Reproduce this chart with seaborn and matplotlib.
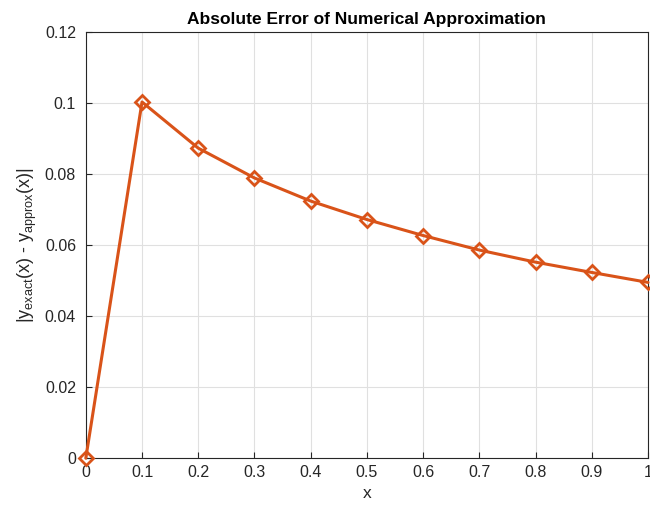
import matplotlib
matplotlib.use("Agg")
import matplotlib.pyplot as plt
import seaborn as sns
import pandas as pd

x_vals = [0.0, 0.1, 0.2, 0.3, 0.4, 0.5, 0.6, 0.7, 0.8, 0.9, 1.0]
abs_error = [0.0, 0.1003, 0.0873, 0.0789, 0.0724, 0.0672, 0.0627, 0.0586, 0.0552, 0.0523, 0.0495]
x_ticks = [0, 0.1, 0.2, 0.3, 0.4, 0.5, 0.6, 0.7, 0.8, 0.9, 1]
x_ticklabels = ["0", "0.1", "0.2", "0.3", "0.4", "0.5", "0.6", "0.7", "0.8", "0.9", "1"]
y_ticks = [0, 0.02, 0.04, 0.06, 0.08, 0.1, 0.12]
y_ticklabels = ["0", "0.02", "0.04", "0.06", "0.08", "0.1", "0.12"]

sns.set_theme(style="white")
plt.rcParams["font.family"] = ["Liberation Sans", "DejaVu Sans"]
plt.rcParams["mathtext.default"] = "regular"

df = pd.DataFrame({"x": x_vals, "err": abs_error})

fig = plt.figure(figsize=(6.5, 5.08), dpi=100)
ax = fig.add_axes([0.132, 0.098, 0.865, 0.839])
color = "#D95319"
sns.lineplot(data=df, x="x", y="err", ax=ax, color=color, linewidth=2.2,
             marker="D", markersize=7.5, markerfacecolor="none",
             markeredgecolor=color, markeredgewidth=2.0, clip_on=False, zorder=5)

ax.set_xlim(0, 1)
ax.set_ylim(0, 0.12)
ax.set_xticks(x_ticks)
ax.set_xticklabels(x_ticklabels)
ax.set_yticks(y_ticks)
ax.set_yticklabels(y_ticklabels)
ax.grid(True, color="#e0e0e0", linewidth=0.8)
ax.set_axisbelow(True)
for s in ax.spines.values():
    s.set_color("#262626")
    s.set_linewidth(0.8)
ax.tick_params(direction="in", length=4, width=0.8, colors="#262626",
               labelsize=11.5, top=False, right=False, bottom=True, left=True)
ax.tick_params(axis="y", pad=7)
ax.tick_params(axis="x", pad=5)
ax.set_xlabel("x", fontsize=12.5, color="#262626")
ax.set_ylabel("|y$_{exact}$(x) - y$_{approx}$(x)|", fontsize=13, color="#262626")
ax.set_title("Absolute Error of Numerical Approximation", fontsize=12.5,
             fontweight="bold", color="black")

fig.savefig("out.png", dpi=100)
